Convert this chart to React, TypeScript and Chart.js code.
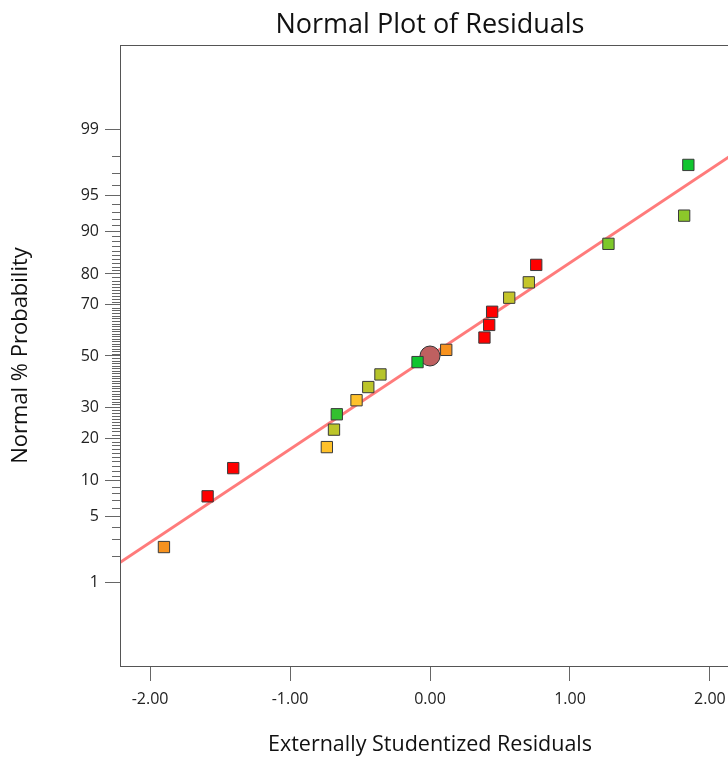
import React, { useEffect, useRef } from 'react';
import { Chart, registerables } from 'chart.js';

Chart.register(...registerables);

// ---- data ----
const residuals = [-1.901, -1.589, -1.406, -0.737, -0.686, -0.666, -0.525, -0.441, -0.354, -0.089, 0.116, 0.389, 0.423, 0.444, 0.566, 0.706, 0.759, 1.275, 1.816, 1.846];
const probabilities = [2.5, 7.5, 12.5, 17.5, 22.5, 27.5, 32.5, 37.5, 42.5, 47.5, 52.5, 57.5, 62.5, 67.5, 72.5, 77.5, 82.5, 87.5, 92.5, 97.5];
const pointColors = [
  '#F7921E', '#FF0000', '#FF0000', '#FFC12A', '#BCC52A', '#33C12F', '#FFC12A', '#BCC52A', '#B5C42A', '#11C52F',
  '#F7921E', '#FF0000', '#FF0000', '#FF0000', '#C5C52A', '#C5C52A', '#FF0000', '#7DC82A', '#8CC82A', '#11C52F',
];
const markerX = [0.0];
const markerPct = [50];
const fitX = [-2.3, 2.3];
const fitPct = [1.39, 98.61];
const xTicks = [-2, -1, 0, 1, 2];
const yMajorTicks = [1, 5, 10, 20, 30, 50, 70, 80, 90, 95, 99];
const yMinorTicks = Array.from({ length: 99 }, (_, i) => i + 1).filter((p) => !yMajorTicks.includes(p));
const yRangeZ = [-3.18, 3.19];
const xRange = [-2.215, 2.215];

// inverse standard normal CDF (Acklam) — probability-scale transform
function probit(p: number): number {
  const a = [-3.969683028665376e1, 2.209460984245205e2, -2.759285104469687e2, 1.38357751867269e2, -3.066479806614716e1, 2.506628277459239];
  const b = [-5.447609879822406e1, 1.615858368580409e2, -1.556989798598866e2, 6.680131188771972e1, -1.328068155288572e1];
  const c = [-7.784894002430293e-3, -3.223964580411365e-1, -2.400758277161838, -2.549732699376693, 4.374664141464968, 2.938163982698783];
  const d = [7.784695709041462e-3, 3.224671290700398e-1, 2.445134137142996, 3.754408661907416];
  const plow = 0.02425;
  const phigh = 1 - plow;
  if (p < plow) {
    const q = Math.sqrt(-2 * Math.log(p));
    return (((((c[0] * q + c[1]) * q + c[2]) * q + c[3]) * q + c[4]) * q + c[5]) / ((((d[0] * q + d[1]) * q + d[2]) * q + d[3]) * q + 1);
  }
  if (p <= phigh) {
    const q = p - 0.5;
    const r = q * q;
    return ((((((a[0] * r + a[1]) * r + a[2]) * r + a[3]) * r + a[4]) * r + a[5]) * q) / (((((b[0] * r + b[1]) * r + b[2]) * r + b[3]) * r + b[4]) * r + 1);
  }
  const q = Math.sqrt(-2 * Math.log(1 - p));
  return -(((((c[0] * q + c[1]) * q + c[2]) * q + c[3]) * q + c[4]) * q + c[5]) / ((((d[0] * q + d[1]) * q + d[2]) * q + d[3]) * q + 1);
}

const FONT = '"Open Sans", "Noto Sans", sans-serif';

export default function App() {
  const ref = useRef<HTMLCanvasElement | null>(null);

  useEffect(() => {
    if (!ref.current) return;

    const framePlugin = {
      id: 'frameAndMinor',
      afterDraw(chart: any) {
        const { ctx, chartArea } = chart;
        const y = chart.scales.y;
        ctx.save();
        ctx.strokeStyle = '#555';
        ctx.lineWidth = 1;
        ctx.strokeRect(chartArea.left + 0.5, chartArea.top + 0.5, chartArea.right - chartArea.left, chartArea.bottom - chartArea.top);
        ctx.strokeStyle = '#666';
        ctx.beginPath();
        for (const p of yMinorTicks) {
          const py = Math.round(y.getPixelForValue(probit(p / 100))) + 0.5;
          ctx.moveTo(chartArea.left - 8, py);
          ctx.lineTo(chartArea.left, py);
        }
        ctx.stroke();
        ctx.restore();
      },
    };

    const chart = new Chart(ref.current, {
      type: 'scatter',
      data: {
        datasets: [
          {
            label: 'residuals',
            data: residuals.map((x, i) => ({ x, y: probit(probabilities[i] / 100) })),
            pointStyle: 'rect',
            pointRadius: 8,
            pointHoverRadius: 8,
            backgroundColor: pointColors,
            borderColor: '#3a3a3a',
            borderWidth: 1,
            order: 1,
          },
          {
            label: 'current',
            data: markerX.map((x, i) => ({ x, y: probit(markerPct[i] / 100) })),
            pointStyle: 'circle',
            pointRadius: 10,
            backgroundColor: '#BF6060',
            borderColor: '#333',
            borderWidth: 1,
            order: 2,
          },
          {
            label: 'fit',
            type: 'line',
            data: fitX.map((x, i) => ({ x, y: probit(fitPct[i] / 100) })),
            borderColor: '#FF7B7B',
            borderWidth: 3,
            pointRadius: 0,
            showLine: true,
            fill: false,
            order: 3,
          } as any,
        ],
      },
      options: {
        responsive: false,
        animation: false,
        layout: { padding: { left: 0, right: 20, top: 0, bottom: 0 } },
        plugins: {
          legend: { display: false },
          tooltip: { enabled: false },
          title: {
            display: true,
            text: 'Normal Plot of Residuals',
            fullSize: false,
            color: '#111',
            font: { family: FONT, size: 27, weight: 'normal' },
            padding: { top: 9, bottom: 3.6 },
          },
        },
        scales: {
          x: {
            type: 'linear',
            min: xRange[0],
            max: xRange[1],
            afterBuildTicks: (s: any) => {
              s.ticks = xTicks.map((v) => ({ value: v }));
            },
            afterFit: (s: any) => {
              s.height = 92;
            },
            grid: { drawOnChartArea: false, drawTicks: true, tickLength: 15, tickColor: '#666' },
            border: { display: true, color: '#555' },
            ticks: {
              color: '#222',
              padding: 9,
              font: { family: FONT, size: 16 },
              callback: (v: any) => Number(v).toFixed(2),
            },
            title: {
              display: true,
              text: 'Externally Studentized Residuals',
              color: '#111',
              font: { family: FONT, size: 21.5 },
              padding: { top: 4, bottom: 0 },
            },
          },
          y: {
            type: 'linear',
            min: yRangeZ[0],
            max: yRangeZ[1],
            afterBuildTicks: (s: any) => {
              s.ticks = yMajorTicks.map((p) => ({ value: probit(p / 100) }));
            },
            afterFit: (s: any) => {
              s.width = 120;
            },
            grid: { drawOnChartArea: false, drawTicks: true, tickLength: 15, tickColor: '#666' },
            border: { display: true, color: '#555' },
            ticks: {
              autoSkip: false,
              color: '#222',
              padding: 6,
              font: { family: FONT, size: 16 },
              callback: (_v: any, i: number) => String(yMajorTicks[i]),
            },
            title: {
              display: true,
              text: 'Normal % Probability',
              color: '#111',
              font: { family: FONT, size: 22 },
              padding: { top: 8, bottom: 0 },
            },
          },
        },
      },
      plugins: [framePlugin],
    } as any);

    return () => chart.destroy();
  }, []);

  return (
    <div style={{ position: 'fixed', left: 0, top: 0, width: 728, height: 758, overflow: 'hidden', background: '#fff' }}>
      <canvas ref={ref} width={760} height={758} style={{ display: 'block' }} />
    </div>
  );
}
